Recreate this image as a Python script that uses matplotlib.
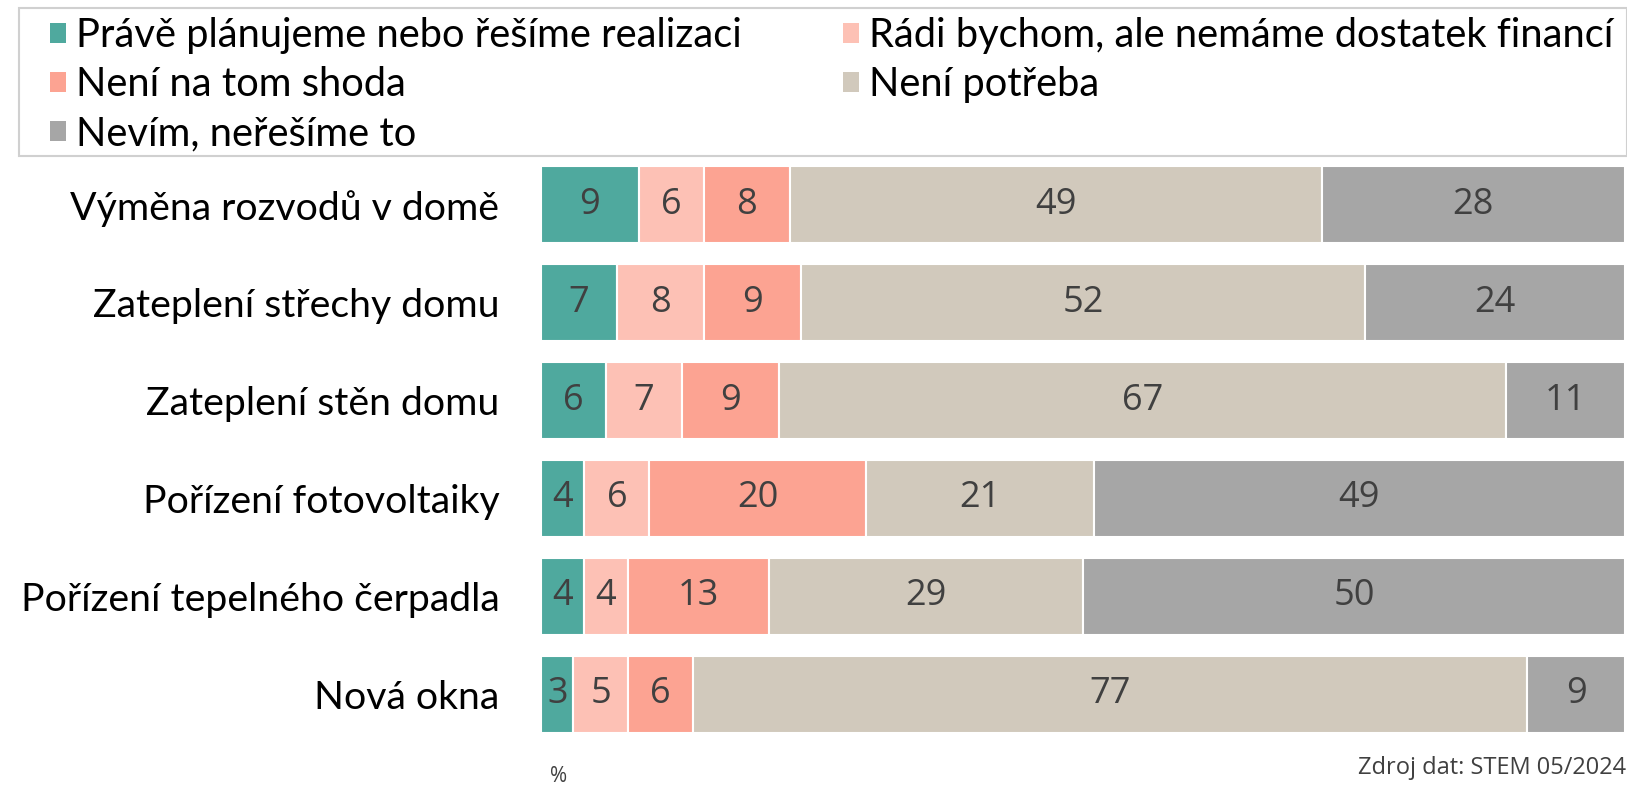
import matplotlib
matplotlib.use("Agg")
import matplotlib.pyplot as plt
from matplotlib.patches import Patch, Rectangle

# Data
categories = ["Výměna rozvodů v domě", "Zateplení střechy domu", "Zateplení stěn domu",
              "Pořízení fotovoltaiky", "Pořízení tepelného čerpadla", "Nová okna"]
series_names = ["Právě plánujeme nebo řešíme realizaci", "Rádi bychom, ale nemáme dostatek financí",
                "Není na tom shoda", "Není potřeba", "Nevím, neřešíme to"]
planujeme = [9, 7, 6, 4, 4, 3]
radi_bychom = [6, 8, 7, 6, 4, 5]
neni_shoda = [8, 9, 9, 20, 13, 6]
neni_potreba = [49, 52, 67, 21, 29, 77]
nevim = [28, 24, 11, 49, 50, 9]

values = [planujeme, radi_bychom, neni_shoda, neni_potreba, nevim]
colors = ["#4FA99E", "#FDC1B5", "#FCA392", "#D1C9BC", "#A6A6A6"]

W, H = 1627, 787
fig = plt.figure(figsize=(W / 100, H / 100), dpi=100)
ax = fig.add_axes([0.3325, 0.0686, 0.6663, 0.7205])

y = list(range(len(categories)))
left = [0] * len(categories)
for vals, col in zip(values, colors):
    bars = ax.barh(y, vals, left=left, height=0.79, color=col, edgecolor="white", linewidth=1.5)
    for b, v in zip(bars, vals):
        ax.text(b.get_x() + b.get_width() / 2, b.get_y() + b.get_height() / 2, str(v),
                ha="center", va="center", fontsize=26, color="#404040", family="Open Sans")
    left = [l + v for l, v in zip(left, vals)]

ax.set_xlim(0, 100)
ax.set_ylim(len(categories) - 1 + 0.395, -0.395)
ax.set_yticks(y)
ax.set_yticklabels(categories, fontsize=28.3, family="Lato")
ax.tick_params(axis="y", length=0, pad=30)
ax.set_xticks([])
for s in ax.spines.values():
    s.set_visible(False)

# Legend frame drawn by hand, legend itself without frame
fig.patches.append(Rectangle((19 / W, 1 - 156 / H), (W - 19) / W, 148 / H,
                             transform=fig.transFigure, facecolor="none",
                             edgecolor="#D0D0D0", linewidth=1.5))

handles = [Patch(facecolor=c) for c in colors]
order = [0, 2, 4, 1, 3]  # column-wise filling
fig.legend([handles[i] for i in order], [series_names[i] for i in order],
           ncol=2, loc="upper left", bbox_to_anchor=(50 / W, 0.978),
           prop={"family": "Lato", "size": 28.7}, frameon=False,
           handlelength=0.39, handleheight=0.39, handletextpad=0.26,
           columnspacing=2.55, labelspacing=0.3, borderpad=0, borderaxespad=0)

fig.text(0.338, 0.006, "%", fontsize=15, color="#404040", family="Open Sans")
fig.text(0.9995, 0.017, "Zdroj dat: STEM 05/2024", fontsize=17, color="#404040",
         family="Open Sans", ha="right")

plt.savefig("out.png", dpi=100)
